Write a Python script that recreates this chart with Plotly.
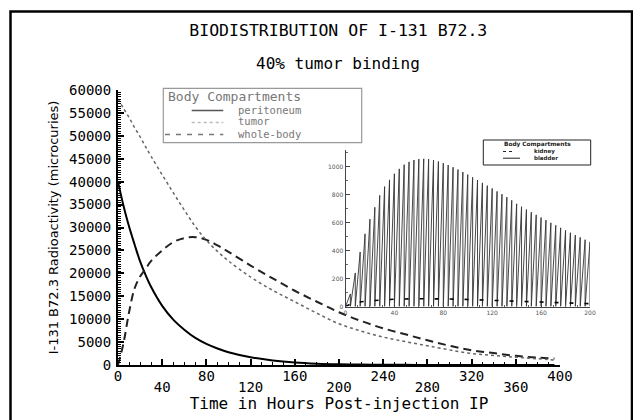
import plotly.graph_objects as go

# ---------------- data ----------------
hours = [0, 5, 10, 15, 20, 25, 30, 40, 50, 60, 70, 80, 90, 100, 120, 140, 160,
         180, 200, 220, 240, 260, 280, 300, 320, 340, 360, 380, 395]
peritoneum = [40000, 34700, 30200, 26300, 22600, 19600, 17000, 12900, 9900, 7700,
              5900, 4600, 3600, 2800, 1700, 1000, 550, 300, 170, 100, 60, 35, 20,
              12, 7, 4, 2, 1, 1]
tumor = [58000, 56000, 54000, 51800, 49800, 47600, 45500, 41500, 37600, 33800,
         30200, 27200, 24800, 22700, 19200, 16300, 13800, 11300, 9000, 7400, 6100,
         5100, 4200, 3300, 2500, 2100, 1700, 1350, 1100]
whole_body = [0, 4800, 11500, 16700, 19300, 21000, 22700, 25000, 26800, 27700,
              27900, 27300, 26100, 24700, 21700, 18900, 16200, 13800, 11500, 9600,
              8000, 6700, 5400, 4200, 3200, 2600, 2000, 1600, 1400]

# inset: bladder voiding cycles (void time, content just before voiding)
void_hours = [4, 8, 12, 16, 20, 24, 28, 32, 36, 40, 44, 48, 52, 56, 60, 64, 68,
              72, 76, 80, 84, 88, 92, 96, 100, 104, 108, 112, 116, 120, 124, 128,
              132, 136, 140, 144, 148, 152, 156, 160, 164, 168, 172, 176, 180, 184,
              188, 192, 196, 200]
bladder_peaks = [90, 240, 390, 520, 625, 710, 795, 858, 906, 950, 985, 1015, 1035,
                 1048, 1055, 1057, 1055, 1048, 1038, 1026, 1012, 997, 980, 962, 944,
                 925, 905, 885, 865, 845, 824, 804, 783, 760, 735, 714, 694, 675,
                 656, 637, 618, 599, 581, 563, 545, 528, 511, 495, 478, 462]
kidney_hours = [0, 5, 10, 20, 40, 60, 80, 100, 120, 140, 160, 180, 200]
kidney = [0, 20, 30, 40, 52, 55, 54, 50, 44, 38, 32, 26, 20]

main_xticks_row1 = [0, 80, 160, 240, 320, 400]
main_xticks_row2 = [40, 120, 200, 280, 360]
main_yticks = [0, 5000, 10000, 15000, 20000, 25000, 30000, 35000, 40000, 45000,
               50000, 55000, 60000]
inset_xticks = [0, 40, 80, 120, 160, 200]
inset_yticks = [0, 200, 400, 600, 800, 1000]

# ---------------- geometry helpers ----------------
# the page puts the figure 8 px in from the top-left corner of the window
OFF = 8
W, H = 641 - OFF, 420 - OFF
ML, MR, MT, MB = 110, 51, 82, 55
PW, PH = W - ML - MR, H - MT - MB


def px(x):
    """window x pixel -> paper x"""
    return (x - OFF - ML) / PW


def py(y):
    """window y pixel -> paper y"""
    return (H - MB - (y - OFF)) / PH


MONO = "DejaVu Sans Mono"
SANS = "DejaVu Sans"

# bladder sawtooth built from the void data
bx, by = [], []
prev = 0
for t, p in zip(void_hours, bladder_peaks):
    bx += [prev, t, t]
    by += [0, p, 0]
    prev = t

fig = go.Figure()
fig.add_trace(go.Scatter(x=hours, y=peritoneum, mode="lines", name="peritoneum",
                         line=dict(color="black", width=2, shape="spline"),
                         xaxis="x", yaxis="y"))
fig.add_trace(go.Scatter(x=hours, y=tumor, mode="lines", name="tumor",
                         line=dict(color="#666", width=1.5, dash="dot", shape="spline"),
                         xaxis="x2", yaxis="y"))
fig.add_trace(go.Scatter(x=hours, y=whole_body, mode="lines", name="whole-body",
                         line=dict(color="#222", width=2, dash="8px,5px", shape="spline"),
                         xaxis="x", yaxis="y"))
fig.add_trace(go.Scatter(x=bx, y=by, mode="lines", name="bladder",
                         line=dict(color="#333", width=0.9),
                         xaxis="x3", yaxis="y3"))
fig.add_trace(go.Scatter(x=kidney_hours, y=kidney, mode="lines", name="kidney",
                         line=dict(color="black", width=1.6, dash="4px,11px", shape="spline"),
                         xaxis="x3", yaxis="y3"))

xmain_dom = [0, px(560)]
fig.update_layout(
    width=W, height=H,
    margin=dict(l=ML, r=MR, t=MT, b=MB, pad=0),
    paper_bgcolor="white", plot_bgcolor="white",
    showlegend=False,
    title=dict(text="BIODISTRIBUTION OF I-131 B72.3",
               font=dict(family=MONO, size=16.5, color="black"),
               x=px(338.3), xref="paper", xanchor="center",
               y=1 - (30 - OFF) / H, yref="container", yanchor="middle"),
    xaxis=dict(domain=xmain_dom, range=[0, 400], autorange=False,
               showline=True, linewidth=2, linecolor="black", mirror=False,
               ticks="inside", tickvals=main_xticks_row1,
               ticktext=[str(v) for v in main_xticks_row1],
               ticklen=6, tickwidth=1.5, tickcolor="black",
               minor=dict(tickmode="linear", tick0=0, dtick=10, ticks="inside",
                          ticklen=3, tickwidth=1, tickcolor="black"),
               showgrid=False, zeroline=False, automargin=False,
               tickfont=dict(family=MONO, size=14, color="black"),
               ticklabelstandoff=-3,
               title=dict(text="Time in Hours Post-injection IP",
                          font=dict(family=MONO, size=16, color="black"),
                          standoff=15)),
    xaxis2=dict(overlaying="x", matches="x", anchor="y", side="bottom",
                range=[0, 400], autorange=False,
                showline=False, ticks="inside", tickvals=main_xticks_row2,
                ticktext=[str(v) for v in main_xticks_row2],
                ticklen=6, tickwidth=1.5, tickcolor="black",
                showgrid=False, zeroline=False, automargin=False,
                tickfont=dict(family=MONO, size=14, color="black"),
                ticklabelstandoff=12),
    yaxis=dict(domain=[0, 1], range=[0, 60000], autorange=False,
               showline=True, linewidth=2, linecolor="black",
               ticks="inside", tickvals=main_yticks,
               ticktext=[str(v) for v in main_yticks],
               ticklen=6, tickwidth=1.5, tickcolor="black",
               minor=dict(tickmode="linear", tick0=0, dtick=500, ticks="inside",
                          ticklen=3, tickwidth=1, tickcolor="black"),
               showgrid=False, zeroline=False, automargin=False,
               tickfont=dict(family=MONO, size=14, color="black"),
               ticklabelstandoff=2,
               title=dict(text="I-131 B72.3 Radioactivity (microcuries)",
                          font=dict(family=SANS, size=13, color="black"),
                          standoff=7)),
    xaxis3=dict(domain=[px(345.5), 1], anchor="y3", range=[0, 200], autorange=False,
                showline=True, linewidth=1, linecolor="#444",
                ticks="inside", tickvals=inset_xticks,
                ticktext=[str(v) for v in inset_xticks],
                ticklen=4, tickwidth=1, tickcolor="#444",
                minor=dict(tickmode="linear", tick0=0, dtick=10, ticks="inside",
                           ticklen=2, tickwidth=1, tickcolor="#666"),
                showgrid=False, zeroline=False, automargin=False,
                tickfont=dict(family=SANS, size=6, color="#555")),
    yaxis3=dict(domain=[py(306.5), py(150)], anchor="x3", range=[0, 1120],
                autorange=False,
                showline=True, linewidth=1, linecolor="#444",
                ticks="inside", tickvals=inset_yticks,
                ticktext=[str(v) for v in inset_yticks],
                ticklen=4, tickwidth=1, tickcolor="#444",
                minor=dict(tickmode="linear", tick0=0, dtick=100, ticks="inside",
                           ticklen=2, tickwidth=1, tickcolor="#666"),
                showgrid=False, zeroline=False, automargin=False,
                tickfont=dict(family=SANS, size=6, color="#555")),
)

shapes = []
annotations = []

# outer frame
shapes.append(dict(type="rect", xref="paper", yref="paper",
                   x0=px(10.5), x1=px(632), y0=py(440), y1=py(11.5),
                   line=dict(color="black", width=2.5), fillcolor="rgba(0,0,0,0)",
                   layer="above"))

# subtitle
annotations.append(dict(text="40% tumor binding", xref="paper", yref="paper",
                        x=px(337.5), y=py(63.5), xanchor="center", yanchor="middle",
                        showarrow=False,
                        font=dict(family=MONO, size=16, color="black")))

# main legend box
LG = "#777"
shapes.append(dict(type="rect", xref="paper", yref="paper",
                   x0=px(163.3), x1=px(361.7), y0=py(142.7), y1=py(88.3),
                   line=dict(color="#999", width=1.2), fillcolor="white"))
annotations.append(dict(text="Body Compartments", xref="paper", yref="paper",
                        x=px(166), y=py(96.3), xanchor="left", yanchor="middle",
                        showarrow=False, font=dict(family=MONO, size=13, color=LG)))
legend_rows = [("peritoneum", 109.5, "solid", 191.7, 1.6, "#555"),
               ("tumor", 121.5, "dot", 191.7, 1.4, "#bbb"),
               ("whole-body", 133.5, "5px,6px", 165, 1.4, "#777")]
for label, yy, dash, x0, lw, col in legend_rows:
    shapes.append(dict(type="line", xref="paper", yref="paper",
                       x0=px(x0), x1=px(223.3), y0=py(yy + 1), y1=py(yy + 1),
                       line=dict(color=col, width=lw, dash=dash)))
    annotations.append(dict(text=label, xref="paper", yref="paper",
                            x=px(236), y=py(yy), xanchor="left", yanchor="middle",
                            showarrow=False,
                            font=dict(family=MONO, size=10.5, color=LG)))

# inset legend box
shapes.append(dict(type="rect", xref="paper", yref="paper",
                   x0=px(483.3), x1=px(590.7), y0=py(165), y1=py(140),
                   line=dict(color="#222", width=1), fillcolor="white"))
annotations.append(dict(text="<b>Body Compartments</b>", xref="paper", yref="paper",
                        x=px(537), y=py(144.8), xanchor="center", yanchor="middle",
                        showarrow=False, font=dict(family=SANS, size=5.8, color="#222")))
inset_rows = [("kidney", 151.5, "3px,3px", 503, 515),
              ("bladder", 158.2, "solid", 503, 520)]
for label, yy, dash, x0, x1 in inset_rows:
    shapes.append(dict(type="line", xref="paper", yref="paper",
                       x0=px(x0), x1=px(x1), y0=py(yy), y1=py(yy),
                       line=dict(color="#222", width=1, dash=dash)))
    annotations.append(dict(text="<b>" + label + "</b>", xref="paper", yref="paper",
                            x=px(532), y=py(yy), xanchor="left", yanchor="middle",
                            showarrow=False,
                            font=dict(family=SANS, size=5.5, color="#222")))

fig.update_layout(shapes=shapes, annotations=annotations)
fig.write_html("out.html")
